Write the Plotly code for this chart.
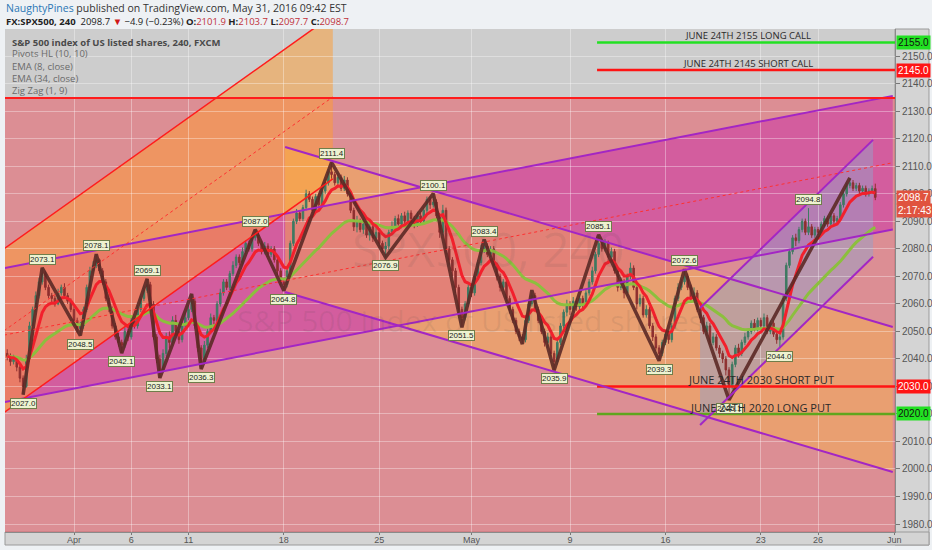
import pandas as pd
import plotly.graph_objects as go

# ---- 4h bars, x = bar number (Apr 1 first bar = 0, 6 bars a day) ----
first_bar = -21
first_open = 2042.0
closes = [
    2041, 2039, 2040, 2037, 2033, 2030, 2040, 2052, 2058, 2063,
    2068, 2071, 2066, 2063, 2062, 2060, 2064, 2066, 2063, 2061,
    2058, 2054, 2051, 2052, 2058, 2066, 2072, 2074, 2076, 2072,
    2068, 2062, 2058, 2052, 2048, 2046, 2045, 2050, 2048, 2054,
    2052, 2058, 2062, 2065, 2067, 2060, 2048, 2040, 2036, 2042,
    2048, 2046, 2054, 2050, 2047, 2052, 2055, 2058, 2061, 2052,
    2044, 2039, 2045, 2050, 2055, 2054, 2060, 2064, 2068, 2066,
    2071, 2074, 2077, 2075, 2079, 2082, 2080, 2084, 2085, 2082,
    2079, 2081, 2078, 2080, 2076, 2072, 2068, 2067, 2072, 2082,
    2090, 2093, 2091, 2095, 2100, 2098, 2094, 2099, 2096, 2101,
    2104, 2108, 2107, 2104, 2106, 2102, 2105, 2100, 2094, 2088,
    2090, 2087, 2089, 2085, 2088, 2084, 2086, 2082, 2080, 2081,
    2086, 2088, 2091, 2089, 2092, 2090, 2093, 2091, 2089, 2092,
    2090, 2094, 2098, 2096, 2097, 2092, 2086, 2094, 2080, 2076,
    2072, 2066, 2058, 2055, 2060, 2066, 2064, 2070, 2075, 2080,
    2081, 2078, 2080, 2074, 2070, 2066, 2068, 2062, 2058, 2054,
    2050, 2048, 2047, 2054, 2060, 2063, 2058, 2054, 2050, 2046,
    2048, 2042, 2039, 2046, 2052, 2057, 2060, 2058, 2061, 2059,
    2062, 2060, 2064, 2068, 2072, 2078, 2082, 2080, 2082, 2077,
    2079, 2072, 2066, 2068, 2064, 2070, 2073, 2066, 2060, 2062,
    2056, 2058, 2052, 2048, 2044, 2042, 2046, 2049, 2047, 2052,
    2062, 2066, 2068, 2070, 2066, 2062, 2064, 2058, 2055, 2050,
    2052, 2046, 2048, 2044, 2042, 2040, 2036, 2030, 2038, 2044,
    2042, 2046, 2048, 2050, 2053, 2051, 2054, 2052, 2055, 2050,
    2053, 2049, 2047, 2048, 2062, 2074, 2079, 2084, 2083, 2087,
    2090, 2086, 2088, 2085, 2087, 2086, 2089, 2091, 2089, 2092,
    2090, 2091, 2096, 2100, 2103, 2104, 2102, 2103, 2101, 2102,
    2100, 2101, 2101.9, 2098.7,
]
highs = [
    2043.5, 2042.0, 2041.5, 2041.0, 2038.0, 2034.0, 2041.5, 2053.5, 2059.0, 2064.5,
    2069.5, 2073.1, 2072.0, 2067.0, 2064.0, 2063.0, 2065.5, 2067.0, 2067.5, 2064.0,
    2062.0, 2059.0, 2055.0, 2053.5, 2059.0, 2067.0, 2073.5, 2075.5, 2078.1, 2076.5,
    2073.0, 2069.0, 2063.5, 2059.0, 2053.0, 2049.5, 2047.0, 2051.5, 2051.0, 2055.5,
    2056.0, 2059.5, 2063.0, 2066.5, 2069.1, 2068.0, 2061.0, 2049.0, 2041.5, 2043.5,
    2049.5, 2050.0, 2055.5, 2056.0, 2051.0, 2053.5, 2057.0, 2059.5, 2063.6, 2062.0,
    2053.0, 2045.0, 2046.5, 2051.0, 2056.5, 2056.0, 2061.0, 2065.5, 2069.0, 2069.0,
    2072.0, 2075.5, 2078.0, 2078.0, 2080.5, 2083.0, 2083.0, 2085.0, 2087.0, 2086.0,
    2083.0, 2082.5, 2082.0, 2081.0, 2081.0, 2077.0, 2073.0, 2069.5, 2073.5, 2083.0,
    2091.0, 2094.5, 2094.0, 2096.0, 2101.5, 2101.0, 2099.0, 2100.0, 2100.0, 2102.0,
    2105.5, 2109.0, 2111.4, 2108.0, 2107.5, 2107.0, 2106.5, 2106.0, 2101.0, 2095.0,
    2092.0, 2091.0, 2091.0, 2090.0, 2089.5, 2089.0, 2088.0, 2087.0, 2083.0, 2082.5,
    2087.0, 2090.0, 2092.0, 2092.5, 2093.0, 2093.5, 2094.0, 2094.0, 2092.0, 2093.5,
    2093.0, 2095.0, 2099.0, 2099.0, 2100.1, 2098.0, 2093.0, 2096.0, 2095.0, 2081.0,
    2077.0, 2073.0, 2067.0, 2059.0, 2061.0, 2067.0, 2067.0, 2071.0, 2076.0, 2081.5,
    2083.4, 2082.0, 2081.0, 2081.0, 2075.0, 2071.0, 2069.0, 2069.0, 2063.0, 2059.0,
    2055.0, 2051.0, 2049.0, 2055.0, 2061.0, 2065.0, 2064.0, 2059.0, 2055.0, 2051.0,
    2049.5, 2049.0, 2043.0, 2047.0, 2053.0, 2058.0, 2061.5, 2061.0, 2062.5, 2062.0,
    2063.0, 2063.0, 2065.0, 2069.0, 2073.5, 2079.0, 2085.1, 2083.0, 2083.5, 2083.0,
    2080.5, 2080.0, 2073.0, 2069.5, 2069.0, 2071.0, 2075.0, 2074.0, 2067.0, 2063.5,
    2063.0, 2059.5, 2059.0, 2053.0, 2049.0, 2045.0, 2047.0, 2050.5, 2050.0, 2053.0,
    2063.0, 2067.5, 2069.0, 2072.6, 2071.0, 2067.0, 2066.0, 2065.0, 2059.0, 2056.0,
    2053.5, 2053.0, 2049.5, 2049.0, 2045.0, 2043.0, 2041.0, 2037.0, 2039.0, 2045.0,
    2045.5, 2047.0, 2049.5, 2051.0, 2054.0, 2054.5, 2055.0, 2055.0, 2056.5, 2056.0,
    2054.0, 2054.0, 2050.0, 2049.0, 2063.0, 2075.0, 2080.0, 2085.0, 2085.5, 2088.0,
    2091.0, 2091.0, 2094.8, 2089.0, 2088.0, 2088.0, 2090.0, 2092.0, 2092.0, 2093.0,
    2093.0, 2092.0, 2097.0, 2101.0, 2104.0, 2105.8, 2105.0, 2104.0, 2104.0, 2103.0,
    2103.0, 2102.0, 2103.0, 2103.7,
]
lows = [
    2039.5, 2037.5, 2038.0, 2035.5, 2031.5, 2027.0, 2029.5, 2039.0, 2050.5, 2057.0,
    2062.0, 2067.0, 2065.0, 2062.0, 2060.5, 2059.0, 2059.5, 2063.0, 2062.0, 2060.0,
    2057.0, 2053.0, 2049.5, 2048.5, 2051.0, 2057.0, 2065.0, 2071.0, 2073.0, 2071.0,
    2067.0, 2061.0, 2057.0, 2051.0, 2047.0, 2044.5, 2042.1, 2044.0, 2046.5, 2047.0,
    2051.0, 2051.0, 2057.0, 2061.0, 2064.0, 2059.0, 2047.0, 2038.5, 2033.1, 2035.0,
    2041.0, 2044.0, 2045.0, 2049.0, 2045.5, 2046.0, 2050.5, 2054.0, 2057.0, 2051.0,
    2042.5, 2036.3, 2038.0, 2044.0, 2049.0, 2052.5, 2053.0, 2059.0, 2063.0, 2065.0,
    2065.0, 2070.0, 2073.0, 2074.0, 2074.0, 2078.0, 2079.0, 2079.0, 2083.0, 2081.0,
    2078.0, 2078.0, 2077.0, 2077.0, 2075.0, 2070.5, 2066.5, 2064.8, 2066.0, 2071.0,
    2081.0, 2089.0, 2090.0, 2090.0, 2094.0, 2097.0, 2093.0, 2093.0, 2095.0, 2095.0,
    2100.0, 2103.0, 2105.5, 2103.0, 2103.0, 2101.0, 2101.0, 2099.0, 2093.0, 2086.5,
    2086.0, 2086.0, 2085.5, 2084.0, 2083.0, 2082.5, 2083.0, 2080.5, 2078.5, 2076.9,
    2079.5, 2085.0, 2087.0, 2088.0, 2087.5, 2089.0, 2089.0, 2090.0, 2087.5, 2088.0,
    2089.0, 2089.0, 2093.0, 2094.5, 2095.0, 2090.0, 2084.0, 2085.0, 2078.0, 2074.0,
    2070.0, 2064.0, 2056.0, 2051.5, 2054.0, 2059.0, 2062.5, 2063.0, 2069.0, 2074.0,
    2078.5, 2077.0, 2077.0, 2073.0, 2068.5, 2064.5, 2065.0, 2061.0, 2056.5, 2053.0,
    2049.0, 2046.5, 2045.4, 2046.0, 2053.0, 2059.0, 2057.0, 2053.0, 2049.0, 2044.5,
    2044.0, 2041.0, 2035.9, 2038.0, 2045.0, 2051.0, 2055.5, 2056.0, 2057.0, 2057.5,
    2057.5, 2058.5, 2059.0, 2063.0, 2067.0, 2071.0, 2077.0, 2079.0, 2079.0, 2075.5,
    2076.0, 2071.0, 2064.5, 2065.0, 2062.0, 2063.0, 2069.0, 2065.0, 2058.0, 2059.0,
    2055.0, 2055.0, 2051.0, 2046.5, 2043.0, 2039.3, 2041.0, 2045.0, 2045.5, 2046.0,
    2051.0, 2061.0, 2065.0, 2067.0, 2065.0, 2060.5, 2061.0, 2057.0, 2053.0, 2049.0,
    2048.5, 2045.0, 2045.0, 2043.0, 2040.5, 2038.5, 2034.0, 2025.1, 2029.0, 2037.0,
    2040.5, 2041.0, 2045.0, 2047.0, 2049.0, 2050.0, 2050.0, 2051.0, 2051.0, 2049.0,
    2049.0, 2048.0, 2045.5, 2044.0, 2047.0, 2061.0, 2073.0, 2078.0, 2081.0, 2082.0,
    2086.0, 2085.0, 2085.0, 2084.0, 2084.0, 2085.0, 2085.0, 2088.0, 2088.0, 2088.5,
    2089.0, 2089.0, 2090.5, 2095.0, 2099.0, 2102.0, 2101.0, 2101.0, 2100.0, 2100.5,
    2099.0, 2099.0, 2100.0, 2097.7,
]
bars = list(range(first_bar, first_bar + len(closes)))
opens = [first_open] + closes[:-1]

# zig zag (1, 9) vertices
zz_bars = [-16, -10, 2, 7, 15, 23, 27, 37, 40, 57, 66, 81, 98, 113, 122, 129,
           141, 144, 151, 165, 184, 192, 206, 244]
zz_prices = [2027.0, 2073.1, 2048.5, 2078.1, 2042.1, 2069.1, 2033.1, 2063.6,
             2036.3, 2087.0, 2064.8, 2111.4, 2076.9, 2100.1, 2051.5, 2083.4,
             2045.4, 2065.0, 2035.9, 2085.1, 2039.3, 2072.6, 2025.1, 2105.8]

# pivots HL (10, 10)
ph_bars = [-10, 7, 23, 57, 81, 113, 129, 165, 192, 231]
ph_vals = [2073.1, 2078.1, 2069.1, 2087.0, 2111.4, 2100.1, 2083.4, 2085.1, 2072.6, 2094.8]
pl_bars = [-16, 2, 15, 27, 40, 66, 98, 122, 151, 184, 206, 222]
pl_vals = [2027.0, 2048.5, 2042.1, 2033.1, 2036.3, 2064.8, 2076.9, 2051.5, 2035.9,
           2039.3, 2025.1, 2044.0]

# time axis
tick_bars = [0, 18, 36, 66, 96, 125, 156, 186, 216, 234, 258]
tick_labels = ["Apr", "6", "11", "18", "25", "May", "9", "16", "23", "26", "Jun"]

# drawings: parallel channels (bar, price)
chan_a_x = [-22, 257.5]
chan_a_top = [2073.0, 2135.6]
chan_a_bot = [2024.3, 2087.0]
chan_d_x = [-22, 81.4]
chan_d_top = [2080.0, 2165.0]
chan_d_bot = [2020.5, 2105.4]
chan_b_x = [66.4, 257.5]
chan_b_top = [2117.0, 2051.6]
chan_b_bot = [2064.3, 1998.9]
chan_c_x = [196.9, 251.3]
chan_c_top = [2058.5, 2119.6]
chan_c_bot = [2016.0, 2077.1]
resist_level = 2134.8

# option levels
opt_levels = [2155.0, 2145.0, 2030.0, 2020.0]
opt_texts = ["JUNE 24TH 2155 LONG CALL", "JUNE 24TH 2145 SHORT CALL",
             "JUNE 24TH 2030 SHORT PUT", "JUNE 24TH 2020 LONG PUT"]
opt_start = 164.5
last_price = 2098.7
countdown = "2:17:43"

ema8 = pd.Series(closes).ewm(span=8, adjust=False).mean()
ema34 = pd.Series(closes).ewm(span=34, adjust=False).mean()

# pixel helpers for the page furniture (plot area is 890 x 503 px)
def px_x(px):
    return (px - 5) / 890.0

def px_y(py):
    return (532 - py) / 503.0


fig = go.Figure()

fig.add_trace(go.Candlestick(
    x=bars, open=opens, high=highs, low=lows, close=closes,
    increasing=dict(line=dict(color="#3f7a62", width=1), fillcolor="#3f7a62"),
    decreasing=dict(line=dict(color="#8e3030", width=1), fillcolor="#8e3030"),
    whiskerwidth=0, showlegend=False, hoverinfo="skip",
))
fig.add_trace(go.Scatter(x=bars, y=ema34, mode="lines",
                         line=dict(color="#8cbf3e", width=3), hoverinfo="skip"))
fig.add_trace(go.Scatter(x=bars, y=ema8, mode="lines",
                         line=dict(color="#f2202c", width=3), hoverinfo="skip"))
fig.add_trace(go.Scatter(x=zz_bars, y=zz_prices, mode="lines",
                         line=dict(color="#5c2a26", width=3.5), opacity=0.9,
                         hoverinfo="skip"))


def channel_path(xs, top, bot):
    return "M {},{} L {},{} L {},{} L {},{} Z".format(
        xs[0], top[0], xs[1], top[1], xs[1], bot[1], xs[0], bot[0])


shapes = []
# big red zone below the resistance line
shapes.append(dict(type="rect", xref="x", yref="y", x0=-30, x1=270, y0=1960,
                   y1=resist_level, fillcolor="rgba(242,54,69,0.41)",
                   line=dict(width=0), layer="below"))
# channel fills
for xs, top, bot, col in [
    (chan_a_x, chan_a_top, chan_a_bot, "rgba(200,40,170,0.48)"),
    (chan_d_x, chan_d_top, chan_d_bot, "rgba(255,155,47,0.5)"),
    (chan_b_x, chan_b_top, chan_b_bot, "rgba(252,185,61,0.4)"),
    (chan_c_x, chan_c_top, chan_c_bot, "rgba(150,160,200,0.5)"),
]:
    shapes.append(dict(type="path", xref="x", yref="y",
                       path=channel_path(xs, top, bot), fillcolor=col,
                       line=dict(width=0), layer="below"))

# put levels
shapes.append(dict(type="line", xref="x", yref="y", x0=opt_start, x1=270,
                   y0=opt_levels[2], y1=opt_levels[2],
                   line=dict(color="#ff1414", width=2.5)))
shapes.append(dict(type="line", xref="x", yref="y", x0=opt_start, x1=270,
                   y0=opt_levels[3], y1=opt_levels[3],
                   line=dict(color="#5fa61e", width=2.5)))

# channel lines
for xs, top, bot, col, w in [
    (chan_a_x, chan_a_top, chan_a_bot, "#a326c4", 2),
    (chan_b_x, chan_b_top, chan_b_bot, "#a326c4", 2),
    (chan_c_x, chan_c_top, chan_c_bot, "#a326c4", 2),
    (chan_d_x, chan_d_top, chan_d_bot, "#ff1c1c", 1.5),
]:
    for edge in (top, bot):
        shapes.append(dict(type="line", xref="x", yref="y", x0=xs[0], x1=xs[1],
                           y0=edge[0], y1=edge[1], line=dict(color=col, width=w)))
for xs, top, bot in [(chan_a_x, chan_a_top, chan_a_bot),
                     (chan_d_x, chan_d_top, chan_d_bot)]:
    shapes.append(dict(type="line", xref="x", yref="y", x0=xs[0], x1=xs[1],
                       y0=(top[0] + bot[0]) / 2, y1=(top[1] + bot[1]) / 2,
                       line=dict(color="#ff3030", width=1, dash="dot")))

shapes.append(dict(type="line", xref="x", yref="y", x0=-30, x1=270,
                   y0=resist_level, y1=resist_level,
                   line=dict(color="#ff1c1c", width=2)))
# call levels
shapes.append(dict(type="line", xref="x", yref="y", x0=opt_start, x1=270,
                   y0=opt_levels[0], y1=opt_levels[0],
                   line=dict(color="#22e022", width=2.5)))
shapes.append(dict(type="line", xref="x", yref="y", x0=opt_start, x1=270,
                   y0=opt_levels[1], y1=opt_levels[1],
                   line=dict(color="#ff1414", width=2.5)))

# axis strips
shapes.append(dict(type="rect", xref="paper", yref="paper", x0=1.0, x1=px_x(929),
                   y0=px_y(545), y1=1.0, fillcolor="#d4d4d4",
                   line=dict(color="#9a9a9a", width=1), layer="below"))
shapes.append(dict(type="rect", xref="paper", yref="paper", x0=0, x1=px_x(929),
                   y0=px_y(545), y1=0, fillcolor="#d4d4d4",
                   line=dict(color="#9a9a9a", width=1), layer="below"))

ann = []
# header
ann.append(dict(xref="paper", yref="paper", x=px_x(4), y=px_y(8), xanchor="left",
                yanchor="middle", showarrow=False,
                text="<span style='color:#2b77b5'>NaughtyPines</span> published on "
                     "TradingView.com, May 31, 2016 09:42 EST",
                font=dict(family="Open Sans", size=10.5, color="#333333")))
red = "#c0303a"
ohlc_txt = ("<b>FX:SPX500, 240</b>  2098.7 <span style='color:#d01818'>▼</span>"
            " −4.9 (−0.23%) <b>O:</b><span style='color:{r}'>2101.9</span>"
            " <b>H:</b><span style='color:{r}'>2103.7</span>"
            " <b>L:</b><span style='color:{r}'>2097.7</span>"
            " <b>C:</b><span style='color:{r}'>2098.7</span>").format(r=red)
ann.append(dict(xref="paper", yref="paper", x=px_x(4), y=px_y(21), xanchor="left",
                yanchor="middle", showarrow=False, text=ohlc_txt,
                font=dict(family="Open Sans", size=9.5, color="#222222")))
# study legend
legend_rows = ["S&P 500 index of US listed shares, 240, FXCM", "Pivots HL (10, 10)",
               "EMA (8, close)", "EMA (34, close)", "Zig Zag (1, 9)"]
for i, row in enumerate(legend_rows):
    ann.append(dict(xref="paper", yref="paper", x=px_x(10), y=px_y(42 + 12 * i),
                    xanchor="left", yanchor="middle", showarrow=False,
                    text="<b>" + row + "</b>" if i == 0 else row,
                    font=dict(family="Open Sans", size=9.5,
                              color="#4a4a4a" if i == 0 else "#6a6a6a")))
# watermark
ann.append(dict(xref="paper", yref="paper", x=px_x(488), y=px_y(248), showarrow=False,
                text="SPX500, 240", font=dict(family="Open Sans", size=48,
                                              color="rgba(70,70,70,0.09)")))
ann.append(dict(xref="paper", yref="paper", x=px_x(470), y=px_y(320), showarrow=False,
                text="S&P 500 index of US listed shares",
                font=dict(family="Open Sans", size=30, color="rgba(70,70,70,0.09)")))

# pivot labels
for b, v in zip(ph_bars, ph_vals):
    ann.append(dict(x=b, y=v, text="{:.1f}".format(v), showarrow=False, yanchor="bottom",
                    yshift=3, font=dict(family="Liberation Sans", size=8, color="#222"),
                    bgcolor="#eef2d0", bordercolor="#6f7d4a", borderwidth=1,
                    borderpad=0))
for b, v in zip(pl_bars, pl_vals):
    ann.append(dict(x=b, y=v, text="{:.1f}".format(v), showarrow=False, yanchor="top",
                    yshift=-3, font=dict(family="Liberation Sans", size=8, color="#222"),
                    bgcolor="#eef2d0", bordercolor="#6f7d4a", borderwidth=1,
                    borderpad=0))

# option level texts
opt_sizes = [9.5, 9.5, 11, 11]
opt_centers = [212, 212, 216, 216]
opt_shift = [-2, -2, -3, -3]
for lvl, txt, sz, cx, sh in zip(opt_levels, opt_texts, opt_sizes, opt_centers, opt_shift):
    ann.append(dict(x=cx, y=lvl, text=txt, showarrow=False, yanchor="bottom", yshift=sh,
                    font=dict(family="Open Sans", size=sz, color="#2a2a2a")))

# price-scale badges
badges = [(opt_levels[0], "#22e022", "#111111"), (opt_levels[1], "#ff1414", "white"),
          (opt_levels[2], "#ff1414", "white"), (opt_levels[3], "#22e022", "#111111"),
          (last_price, "#e0533f", "white")]
for lvl, bg, fg in badges:
    ann.append(dict(xref="paper", yref="y", x=1.0, y=lvl, xanchor="left", xshift=1,
                    text="{:.1f}".format(lvl), showarrow=False, bgcolor=bg, borderpad=1,
                    font=dict(family="Liberation Sans", size=10, color=fg)))
ann.append(dict(xref="paper", yref="y", x=1.0, y=last_price, xanchor="left", xshift=1,
                yshift=-13, text=countdown, showarrow=False, bgcolor="#e0533f",
                borderpad=1, font=dict(family="Liberation Sans", size=10, color="white")))

fig.update_layout(
    width=932, height=550,
    margin=dict(l=5, r=37, t=29, b=18),
    paper_bgcolor="#eef1f4",
    plot_bgcolor="#cdcdcd",
    showlegend=False,
    shapes=shapes,
    annotations=ann,
    xaxis=dict(range=[-21.7, 258.2], tickvals=tick_bars, ticktext=tick_labels,
               showgrid=True, gridcolor="rgba(255,255,255,0.35)", gridwidth=1,
               zeroline=False, ticks="outside", ticklen=2, tickcolor="#777",
               ticklabelstandoff=-3,
               tickfont=dict(family="Liberation Sans", size=9, color="#555"),
               rangeslider=dict(visible=False), showline=True, linecolor="#8a8a8a",
               automargin=False),
    yaxis=dict(range=[1977.1, 2159.9], side="right", dtick=10, tick0=1980,
               tickformat=".1f", showgrid=True, gridcolor="rgba(255,255,255,0.35)",
               zeroline=False, ticks="outside", ticklen=4, tickcolor="#777",
               tickfont=dict(family="Liberation Sans", size=10, color="#555"),
               showline=True, linecolor="#8a8a8a", automargin=False),
)

# page has a default body margin; drop it so the figure fills the window
fig.write_html("out.html", config={"displayModeBar": False},
               post_script="document.body.style.margin='0px';")
